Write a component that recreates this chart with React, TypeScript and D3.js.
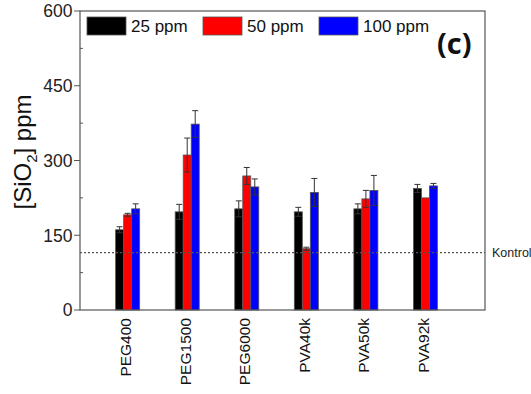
import React from "react";
import * as d3 from "d3";

const categories = ["PEG400", "PEG1500", "PEG6000", "PVA40k", "PVA50k", "PVA92k"];
const seriesNames = ["25 ppm", "50 ppm", "100 ppm"];
const seriesColors = ["#000000", "#ff0000", "#0000ff"];
const values25 = [161, 197, 203, 197, 203, 244];
const errors25 = [6, 15, 16, 9, 10, 8];
const values50 = [191, 311, 269, 123, 223, 225];
const errors50 = [3, 34, 17, 3, 17, 0];
const values100 = [203, 373, 247, 236, 240, 249];
const errors100 = [10, 27, 16, 28, 30, 5];
const kontrolValue = 115;
const yMajorTicks = [0, 150, 300, 450, 600];
const yMinorTicks = [75, 225, 375, 525];

const W = 531;
const H = 394;
const left = 80;
const right = 485;
const top = 11;
const bottom = 310;

export default function App() {
  const x = d3.scaleLinear().domain([0.2, 7]).range([left, right]);
  const y = d3.scaleLinear().domain([0, 600]).range([bottom, top]);
  const unit = x(1) - x(0);
  const barW = unit * 0.1345;
  const series = [
    { vals: values25, errs: errors25 },
    { vals: values50, errs: errors50 },
    { vals: values100, errs: errors100 },
  ];
  const font = "'Liberation Sans', Arial, sans-serif";
  const axisColor = "#555";
  const capW = 3;

  const legendX = [87, 203, 319];

  return (
    <svg
      width={W}
      height={H}
      style={{ position: "absolute", left: 0, top: 0, background: "#fff" }}
      fontFamily={font}
    >
      {/* bars */}
      {categories.map((c, i) => (
        <g key={c}>
          {series.map((s, j) => {
            const cx = x(i + 1) + (j - 1) * barW;
            const x0 = cx - barW / 2;
            return (
              <rect
                key={j}
                x={x0}
                y={y(s.vals[i])}
                width={barW}
                height={y(0) - y(s.vals[i])}
                fill={seriesColors[j]}
                stroke="#555"
                strokeWidth={0.8}
              />
            );
          })}
          {series.map((s, j) => {
            const cx = x(i + 1) + (j - 1) * barW;
            const e = s.errs[i];
            if (!e) return null;
            const yt = y(s.vals[i] + e);
            const yb = y(s.vals[i] - e);
            return (
              <g key={"e" + j} stroke="#333" strokeWidth={1}>
                <line x1={cx} x2={cx} y1={yt} y2={yb} />
                <line x1={cx - capW} x2={cx + capW} y1={yt} y2={yt} />
                <line x1={cx - capW} x2={cx + capW} y1={yb} y2={yb} />
              </g>
            );
          })}
        </g>
      ))}

      {/* kontrol line */}
      <line
        x1={left}
        x2={right}
        y1={y(kontrolValue)}
        y2={y(kontrolValue)}
        stroke="#555"
        strokeWidth={1.2}
        strokeDasharray="2,2"
      />
      <text x={492} y={y(kontrolValue)} dy="0.35em" fontSize={12.5} fill="#222">
        Kontrol
      </text>

      {/* frame */}
      <rect x={left} y={top} width={right - left} height={bottom - top} fill="none" stroke={axisColor} strokeWidth={1.2} />

      {/* y ticks */}
      {yMajorTicks.map((t) => (
        <g key={t}>
          <line x1={left - 6} x2={left} y1={y(t)} y2={y(t)} stroke={axisColor} strokeWidth={1} />
          <text x={72.5} y={y(t)} dy="0.36em" textAnchor="end" fontSize={17.5} fill="#222">
            {t}
          </text>
        </g>
      ))}
      {yMinorTicks.map((t) => (
        <line key={t} x1={left} x2={left + 3} y1={y(t)} y2={y(t)} stroke={axisColor} strokeWidth={1} />
      ))}

      {/* y label */}
      <text
        transform={`translate(31, ${152}) rotate(-90)`}
        textAnchor="middle"
        fontSize={24}
        fill="#111"
      >
        [SiO
        <tspan fontSize={15} dy="6">2</tspan>
        <tspan dy="-6">] ppm</tspan>
      </text>

      {/* x labels */}
      {categories.map((c, i) => (
        <text
          key={c}
          transform={`translate(${x(i + 1) - 2}, 318) rotate(-90)`}
          textAnchor="end"
          dy="0.35em"
          fontSize={15.5}
          fill="#111"
        >
          {c}
        </text>
      ))}

      {/* legend */}
      {seriesNames.map((n, j) => (
        <g key={n}>
          <rect x={legendX[j]} y={17} width={39} height={18} fill={seriesColors[j]} stroke="#555" strokeWidth={0.8} />
          <text x={legendX[j] + 44} y={26} dy="0.36em" fontSize={17} fill="#111">
            {n}
          </text>
        </g>
      ))}

      {/* panel label */}
      <text x={437} y={54} fontSize={29} fontWeight="bold" fontFamily="'Open Sans', sans-serif" fill="#111">
        (c)
      </text>
    </svg>
  );
}
